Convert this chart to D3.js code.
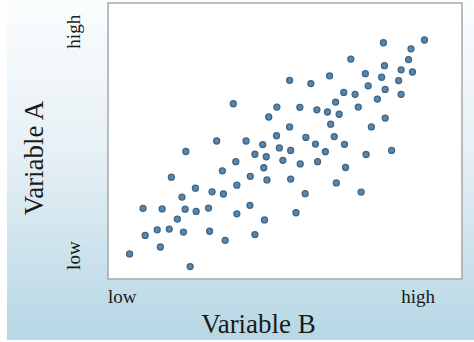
<!DOCTYPE html>
<html>
<head>
<meta charset="utf-8">
<script src="https://cdn.jsdelivr.net/npm/d3@7/dist/d3.min.js"></script>
<style>
  html, body { margin: 0; padding: 0; background: #ffffff; }
  svg { display: block; }
  text { font-family: "Liberation Serif", "DejaVu Serif", serif; fill: #1a1a1a; }
</style>
</head>
<body>
<svg id="chart" width="474" height="342"></svg>
<script>
// Variable B (horizontal), 0 = low, 100 = high
const variableB = [6.1, 9.9, 10.5, 13.9, 14.8, 15.3, 17.3, 17.9, 19.6, 20.9, 21.3, 21.8, 22.0, 23.2, 24.7, 24.9,
  28.4, 28.7, 29.4, 30.7, 32.3, 32.6, 33.1, 35.4, 36.1, 36.4, 36.4, 39.0, 40.2, 40.1, 41.5, 41.5,
  43.7, 44.0, 44.2, 44.7, 44.9, 45.4, 47.6, 47.7, 48.4, 49.4, 51.3, 51.3, 51.6, 51.6, 53.1, 54.2,
  54.3, 55.7, 55.9, 57.3, 58.6, 59.0, 59.2, 61.4, 62.0, 62.6, 62.9, 63.9, 64.3, 64.5, 65.3, 66.6,
  66.8, 67.1, 68.6, 69.8, 70.7, 71.5, 72.7, 72.9, 73.5, 74.4, 76.1, 77.3, 77.8, 78.1, 78.3, 78.3,
  80.1, 82.1, 82.8, 82.8, 84.9, 85.6, 86.0, 89.4];
// Variable A (vertical), 0 = low, 100 = high
const variableA = [9.1, 25.6, 15.8, 17.8, 11.6, 25.4, 18.1, 36.9, 21.7, 29.7, 17.0, 25.3, 46.2, 4.5, 32.9, 24.5,
  25.7, 17.3, 31.6, 50.0, 39.2, 30.8, 14.0, 63.5, 42.5, 34.0, 23.6, 50.0, 37.2, 26.7, 45.2, 16.1,
  48.7, 40.3, 21.4, 44.3, 35.9, 58.7, 51.9, 62.3, 47.5, 43.0, 55.1, 72.0, 46.6, 36.2, 24.0, 62.2,
  41.7, 30.9, 51.3, 70.8, 48.9, 61.3, 42.5, 46.1, 60.5, 73.6, 56.1, 51.6, 64.1, 34.8, 59.7, 67.6,
  48.8, 40.4, 79.7, 66.9, 62.3, 31.5, 74.4, 45.1, 70.0, 55.1, 65.2, 73.1, 85.6, 77.3, 68.7, 58.3,
  46.6, 71.9, 75.8, 66.9, 79.5, 83.4, 75.0, 86.6];
const xTickLabels = ["low", "high"];
const yTickLabels = ["low", "high"];
const xTitle = "Variable B";
const yTitle = "Variable A";

const W = 474, H = 342;
const box = { left: 108, right: 462, top: 3, bottom: 279 };
const svg = d3.select("#chart");

// background gradient
const defs = svg.append("defs");
const grad = defs.append("linearGradient").attr("id", "bg").attr("x1", 0).attr("y1", 0).attr("x2", 0).attr("y2", 1);
grad.append("stop").attr("offset", "0%").attr("stop-color", "#fbfdfe");
grad.append("stop").attr("offset", "45%").attr("stop-color", "#e6f0f5");
grad.append("stop").attr("offset", "100%").attr("stop-color", "#b6d7e5");
svg.append("rect").attr("x", 7).attr("y", 0).attr("width", W - 7).attr("height", H - 2).attr("fill", "url(#bg)");

const x = d3.scaleLinear().domain([0, 100]).range([box.left, box.right]);
const y = d3.scaleLinear().domain([0, 100]).range([box.bottom, box.top]);

svg.append("rect")
  .attr("x", box.left).attr("y", box.top)
  .attr("width", box.right - box.left).attr("height", box.bottom - box.top)
  .attr("fill", "#ffffff").attr("stroke", "#a3a8ac").attr("stroke-width", 1.5);

const pts = variableB.map((b, i) => ({ b, a: variableA[i] }));
svg.append("g").selectAll("circle").data(pts).join("circle")
  .attr("cx", d => x(d.b)).attr("cy", d => y(d.a)).attr("r", 3)
  .attr("fill", "#5a86a9").attr("stroke", "#3e6789").attr("stroke-width", 1.3);

// x tick labels
const xTickPos = [0, 92.4];
svg.append("g").selectAll("text").data(xTickLabels).join("text")
  .attr("x", (d, i) => x(xTickPos[i])).attr("y", 303)
  .attr("text-anchor", (d, i) => i === 0 ? "start" : "end")
  .attr("font-size", 19).text(d => d);

// y tick labels (rotated)
const yTickPos = [3.3, 95.7];
svg.append("g").selectAll("text").data(yTickLabels).join("text")
  .attr("transform", (d, i) => `translate(80,${y(yTickPos[i])}) rotate(-90)`)
  .attr("text-anchor", (d, i) => i === 0 ? "start" : "end")
  .attr("font-size", 19).text(d => d);

svg.append("text").attr("x", 258.5).attr("y", 333).attr("text-anchor", "middle")
  .attr("font-size", 27).text(xTitle);
svg.append("text").attr("transform", "translate(43,158) rotate(-90)").attr("text-anchor", "middle")
  .attr("font-size", 27).text(yTitle);
</script>
</body>
</html>
